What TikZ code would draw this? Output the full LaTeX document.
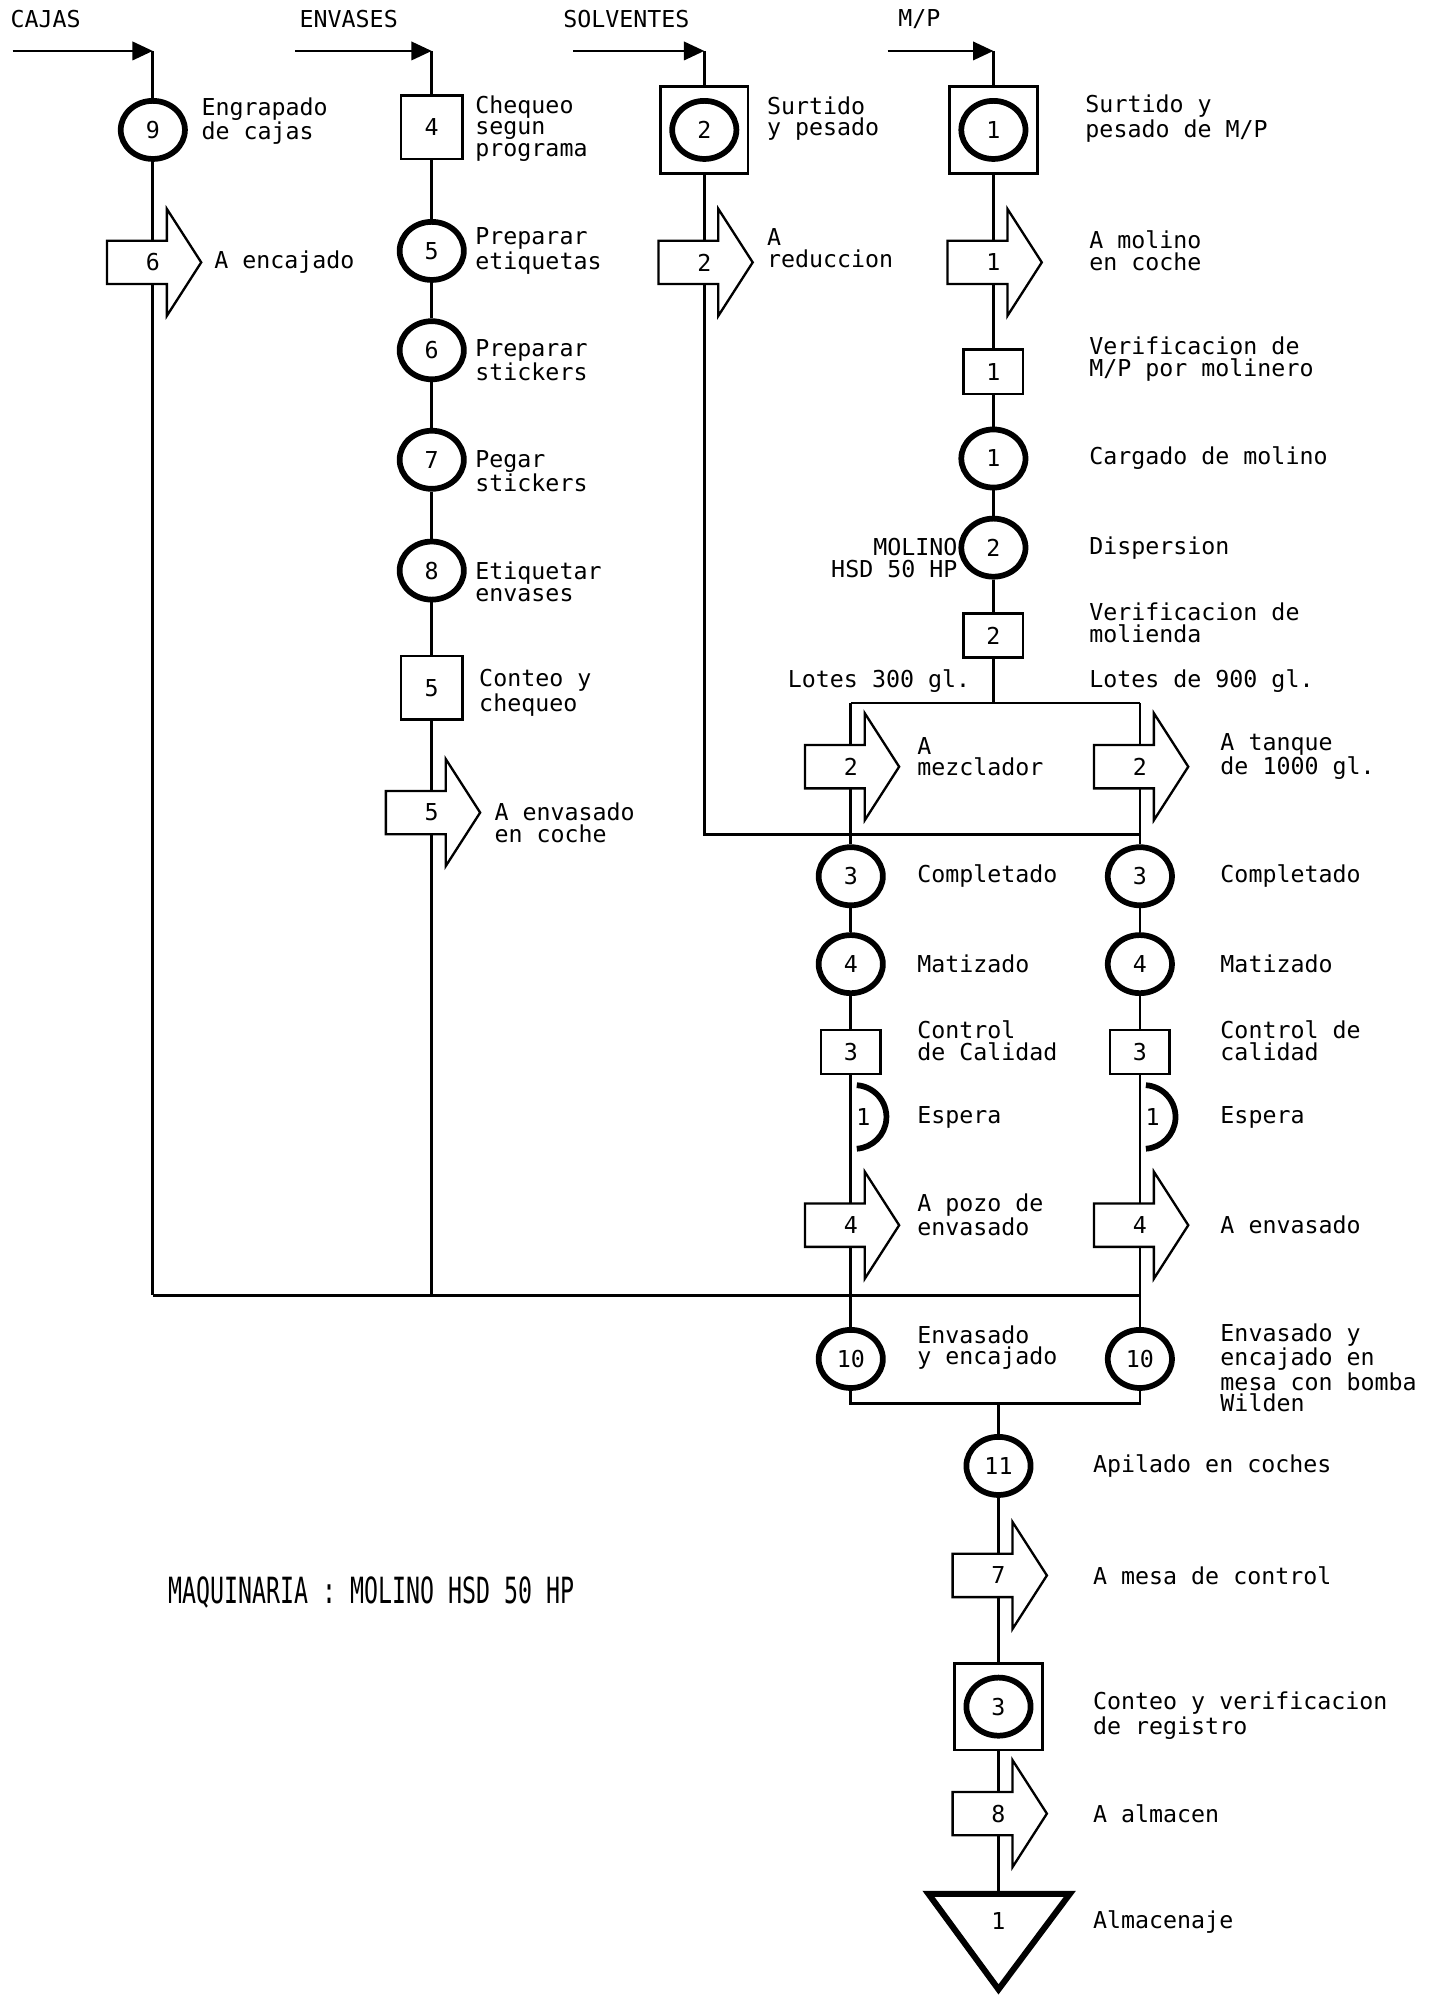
\documentclass[tikz,border=0pt]{standalone}
\usepackage{fontspec}
\usetikzlibrary{arrows.meta,shapes.geometric}
\newfontfamily\mono{DejaVu Sans Mono}
\newcommand{\txtfont}{\mono\fontsize{13}{12.1}\selectfont}

\tikzset{
  flujo/.style={line width=1.5pt},
  entrada/.style={line width=1.5pt,-{Triangle[length=4mm,width=3.6mm]}},
  oper/.style={ellipse,draw,line width=3.2pt,minimum width=1.26cm,minimum height=1.14cm,inner sep=0pt,font=\txtfont},
  insp/.style={rectangle,draw,line width=1.4pt,minimum width=1.17cm,minimum height=0.87cm,inner sep=0pt,font=\txtfont},
  inspg/.style={insp,minimum width=1.2cm,minimum height=1.25cm},
  comb/.style={rectangle,draw,line width=1.5pt,minimum width=1.72cm,minimum height=1.7cm,inner sep=0pt},
  tnum/.style={inner sep=0pt,minimum width=1pt,minimum height=0.85cm,font=\txtfont},
  txt/.style={anchor=west,align=left,inner sep=0pt,font=\txtfont},
  transp/.pic={\draw[line width=1.3pt] (-36,-17) -- (11,-17) -- (11,-42) -- (38,0) -- (11,42) -- (11,17) -- (-36,17) -- cycle;},
  espera/.pic={\draw[line width=3.2pt] (3,0) ++(-86:25) arc[start angle=-86,end angle=86,radius=25];}
}

\begin{document}
\begin{tikzpicture}[x=0.025cm,y=-0.025cm]
  \useasboundingbox (0,0) rectangle (1133,1568);
  % cajas
  \node[txt] (lcaj) at (8,15) {CAJAS};
  \coordinate (cajin) at (10,40);
  \coordinate (caj0) at (120,40);
  \node[oper] (caj9) at (120,102) {9};
  \node[txt] (tcaj9) at (158,95) {Engrapado\\de cajas};
  \node[tnum] (caj6) at (120,206) {6};
  \pic at (caj6) {transp};
  \node[txt] (tcaj6) at (168,206) {A encajado};
  \coordinate (cajb) at (120,1017);
  \draw[entrada] (cajin) -- (caj0);
  \draw[flujo] (caj0) -- (caj9) -- (caj6) -- (cajb);
  % envases
  \node[txt] (lenv) at (235,15) {ENVASES};
  \coordinate (envin) at (232,40);
  \coordinate (env0) at (339,40);
  \node[inspg] (env4) at (339,100) {4};
  \node[txt] (tenv4) at (373,101) {Chequeo\\segun\\programa};
  \node[oper] (env5) at (339,197) {5};
  \node[txt] (tenv5) at (373,197) {Preparar\\etiquetas};
  \node[oper] (env6) at (339,275) {6};
  \node[txt] (tenv6) at (373,283) {Preparar\\stickers};
  \node[oper] (env7) at (339,361) {7};
  \node[txt] (tenv7) at (373,370) {Pegar\\stickers};
  \node[oper] (env8) at (339,448) {8};
  \node[txt] (tenv8) at (373,457) {Etiquetar\\envases};
  \node[inspg] (env5i) at (339,540) {5};
  \node[txt] (tenv5i) at (376,544) {Conteo y\\chequeo};
  \node[tnum] (env5t) at (339,638) {5};
  \pic at (env5t) {transp};
  \node[txt] (tenv5t) at (388,646) {A envasado\\en coche};
  \coordinate (envb) at (339,1017);
  \draw[entrada] (envin) -- (env0);
  \draw[flujo] (env0) -- (env4) -- (env5) -- (env6) -- (env7) -- (env8) -- (env5i) -- (env5t) -- (envb);
  % solventes
  \node[txt] (lsol) at (442,15) {SOLVENTES};
  \coordinate (solin) at (450,40);
  \coordinate (sol0) at (553,40);
  \node[comb] (sol2) at (553,102) {};
  \node[oper] (sol2c) at (sol2) {2};
  \node[txt] (tsol2) at (602,93) {Surtido\\y pesado};
  \node[tnum] (sol2t) at (553,206) {2};
  \pic at (sol2t) {transp};
  \node[txt] (tsol2t) at (602,195) {A\\reduccion};
  \coordinate (solb) at (553,655);
  \coordinate (solc) at (895,655);
  \draw[entrada] (solin) -- (sol0);
  \draw[flujo] (sol0) -- (sol2) -- (sol2t) -- (solb) -- (solc);
  % materia prima
  \node[txt] (lmp) at (705,15) {M/P};
  \coordinate (mpin) at (697,40);
  \coordinate (mp0) at (780,40);
  \node[comb] (mp1) at (780,102) {};
  \node[oper] (mp1c) at (mp1) {1};
  \node[txt] (tmp1) at (852,93) {Surtido y\\pesado de M/P};
  \node[tnum] (mp1t) at (780,206) {1};
  \pic at (mp1t) {transp};
  \node[txt] (tmp1t) at (855,197) {A molino\\en coche};
  \node[insp] (mp1i) at (780,292) {1};
  \node[txt] (tmp1i) at (855,282) {Verificacion de\\M/P por molinero};
  \node[oper] (mp1o) at (780,360) {1};
  \node[txt] (tmp1o) at (855,360) {Cargado de molino};
  \node[oper] (mp2o) at (780,430) {2};
  \node[txt] (tmp2o) at (855,430) {Dispersion};
  \node[anchor=east,align=right,inner sep=0pt,font=\txtfont] (mol) at (752,438) {MOLINO\\HSD 50 HP};
  \node[insp] (mp2i) at (780,499) {2};
  \node[txt] (tmp2i) at (855,489) {Verificacion de\\molienda};
  \node[anchor=east,inner sep=0pt,font=\txtfont] (lot3) at (762,535) {Lotes 300 gl.};
  \node[txt] (lot9) at (855,535) {Lotes de 900 gl.};
  \coordinate (div) at (780,552);
  \coordinate (div5) at (668,552);
  \coordinate (div6) at (895,552);
  \draw[entrada] (mpin) -- (mp0);
  \draw[flujo] (mp0) -- (mp1) -- (mp1t) -- (mp1i) -- (mp1o) -- (mp2o) -- (mp2i) -- (div);
  \draw[flujo] (div5) -- (div6);
  % lotes 300 gl.
  \node[tnum] (a2t) at (668,602) {2};
  \pic at (a2t) {transp};
  \node[txt] (ta2t) at (720,594) {A\\mezclador};
  \node[oper] (a3) at (668,688) {3};
  \node[txt] (ta3) at (720,688) {Completado};
  \node[oper] (a4) at (668,757) {4};
  \node[txt] (ta4) at (720,757) {Matizado};
  \node[insp] (a3i) at (668,826) {3};
  \node[txt] (ta3i) at (720,817) {Control\\de Calidad};
  \pic at (668,877) {espera};
  \node[inner sep=0pt,font=\txtfont] (a1e) at (678,877) {1};
  \node[txt] (ta1e) at (720,877) {Espera};
  \node[tnum] (a4t) at (668,962) {4};
  \pic at (a4t) {transp};
  \node[txt] (ta4t) at (720,954) {A pozo de\\envasado};
  \node[oper] (a10) at (668,1067) {10};
  \node[txt] (ta10) at (720,1058) {Envasado\\y encajado};
  \draw[flujo] (div5) -- (a2t) -- (a3) -- (a4) -- (a3i) -- (a4t) -- (a10);
  % lotes 900 gl.
  \node[tnum] (b2t) at (895,602) {2};
  \pic at (b2t) {transp};
  \node[txt] (tb2t) at (958,594) {A tanque\\de 1000 gl.};
  \node[oper] (b3) at (895,688) {3};
  \node[txt] (tb3) at (958,688) {Completado};
  \node[oper] (b4) at (895,757) {4};
  \node[txt] (tb4) at (958,757) {Matizado};
  \node[insp] (b3i) at (895,826) {3};
  \node[txt] (tb3i) at (958,817) {Control de\\calidad};
  \pic at (895,877) {espera};
  \node[inner sep=0pt,font=\txtfont] (b1e) at (905,877) {1};
  \node[txt] (tb1e) at (958,877) {Espera};
  \node[tnum] (b4t) at (895,962) {4};
  \pic at (b4t) {transp};
  \node[txt] (tb4t) at (958,962) {A envasado};
  \node[oper] (b10) at (895,1067) {10};
  \node[txt] (tb10) at (958,1074) {Envasado y\\encajado en\\mesa con bomba\\Wilden};
  \draw[flujo] (div6) -- (b2t) -- (b3) -- (b4) -- (b3i) -- (b4t) -- (b10);
  % colector de cajas y envases
  \coordinate (colb) at (895,1017);
  \draw[flujo] (cajb) -- (colb);
  % union y salida
  \coordinate (un5) at (668,1102);
  \coordinate (un6) at (895,1102);
  \coordinate (unm) at (784,1102);
  \draw[flujo] (a10) -- (un5) -- (un6) -- (b10);
  \node[oper] (c11) at (784,1151) {11};
  \node[txt] (tc11) at (858,1151) {Apilado en coches};
  \node[tnum] (c7t) at (784,1237) {7};
  \pic at (c7t) {transp};
  \node[txt] (tc7t) at (858,1237) {A mesa de control};
  \node[comb] (c3) at (784,1340) {};
  \node[oper] (c3c) at (c3) {3};
  \node[txt] (tc3) at (858,1347) {Conteo y verificacion\\de registro};
  \node[tnum] (c8t) at (784,1424) {8};
  \pic at (c8t) {transp};
  \node[txt] (tc8t) at (858,1424) {A almacen};
  \coordinate (almtop) at (784,1487);
  \draw[line width=3.4pt] (729,1487) -- (840,1487) -- (784,1562) -- cycle;
  \node[inner sep=0pt,font=\txtfont] (alm1) at (784,1508) {1};
  \node[txt] (talm) at (858,1509) {Almacenaje};
  \draw[flujo] (unm) -- (c11) -- (c7t) -- (c3) -- (c8t) -- (almtop);
  % maquinaria
  \node[txt] (maq) at (132,1250) {\scalebox{1}[1.55]{MAQUINARIA : MOLINO HSD 50 HP}};
\end{tikzpicture}
\end{document}
